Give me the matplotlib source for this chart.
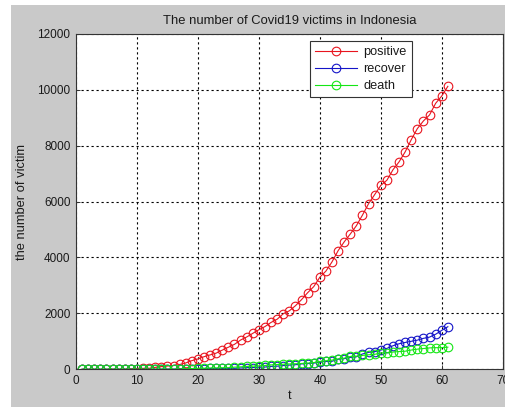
#!/usr/bin/env python3
"""Covid19 victims in Indonesia, MATLAB-style line plot."""

import matplotlib
matplotlib.use("Agg")
import matplotlib.pyplot as plt
from matplotlib.patches import Rectangle
import numpy as np

plt.rcParams['font.family'] = ['Liberation Sans', 'DejaVu Sans']

# day index (t = day of March 2020, continuing into April)
t = list(range(1, 62))

positive = [0, 2, 2, 2, 2, 4, 4, 6, 19, 27,
            34, 34, 69, 96, 117, 134, 172, 227, 309, 369,
            450, 514, 579, 686, 790, 893, 1046, 1155, 1285, 1414,
            1528, 1677, 1790, 1986, 2092, 2273, 2491, 2738, 2956, 3293,
            3512, 3842, 4241, 4557, 4839, 5136, 5516, 5923, 6248, 6575,
            6760, 7135, 7418, 7775, 8211, 8607, 8882, 9096, 9511, 9771,
            10118]

recover = [0, 0, 0, 0, 0, 0, 0, 0, 0, 0,
           0, 0, 3, 5, 8, 8, 9, 11, 15, 16,
           20, 29, 30, 30, 31, 35, 46, 59, 64, 75,
           81, 103, 112, 134, 150, 164, 192, 204, 222, 252,
           282, 286, 359, 380, 426, 446, 548, 607, 631, 686,
           747, 842, 913, 960, 1002, 1042, 1107, 1151, 1254, 1391,
           1522]

death = [0, 0, 0, 0, 0, 0, 0, 0, 0, 0,
         1, 1, 4, 5, 5, 5, 7, 19, 25, 32,
         38, 48, 49, 55, 58, 78, 87, 102, 114, 122,
         136, 157, 170, 181, 191, 198, 209, 221, 240, 280,
         306, 327, 373, 399, 459, 469, 496, 520, 535, 582,
         590, 616, 635, 647, 689, 720, 743, 765, 773, 773,
         792]

series_labels = ["positive", "recover", "death"]
series_colors = ["#e8141e", "#1414c8", "#14e614"]

x_ticks = [0, 10, 20, 30, 40, 50, 60, 70]
y_ticks = [0, 2000, 4000, 6000, 8000, 10000, 12000]

BG_GRAY = "#c9c9c9"
TEXT = "#1a1a1a"
FS_TICK = 8.5
FS = 9

W, H = 505, 407
fig = plt.figure(figsize=(W / 100, H / 100), dpi=100)
fig.patch.set_facecolor("white")
# gray MATLAB figure area (small white strip left and top)
fig.patches.append(Rectangle((11 / W, 0), 1, 1 - 5 / H, transform=fig.transFigure,
                             facecolor=BG_GRAY, edgecolor="none", zorder=-10))

left, right = 76 / W, 502.7 / W
bottom, top = 1 - 369.3 / H, 1 - 33.7 / H
ax = fig.add_axes([left, bottom, right - left, top - bottom])
ax.set_facecolor("white")

for vals, lab, col in zip([positive, recover, death], series_labels, series_colors):
    ax.plot(t, vals, '-o', color=col, lw=0.8, markersize=6.2,
            markerfacecolor='none', markeredgewidth=0.8, label=lab)

ax.set_xlim(0, 70)
ax.set_ylim(0, 12000)
ax.set_xticks(x_ticks)
ax.set_yticks(y_ticks)
ax.tick_params(direction='in', length=3, width=0.7, labelsize=FS_TICK,
               colors="#333333", labelcolor=TEXT, pad=4)
for sp in ax.spines.values():
    sp.set_color("#333333")
    sp.set_linewidth(0.8)

ax.grid(True, color="black", linestyle=(0, (2, 2.5)), linewidth=0.8)
ax.set_axisbelow(True)

ax.set_title("The number of Covid19 victims in Indonesia", fontsize=FS + 0.4,
             color=TEXT, pad=7)
ax.set_xlabel("t", fontsize=FS, color=TEXT)
ax.set_ylabel("the number of victim", fontsize=FS + 0.3, color=TEXT)
ax.xaxis.set_label_coords(0.5, -0.062)
ax.yaxis.set_label_coords(-0.113, 0.5)

leg = ax.legend(loc="upper right", bbox_to_anchor=((412 - 76) / 426.7, (369.3 - 41) / 335.6),
                fontsize=FS + 0.2, fancybox=False, framealpha=1, edgecolor="#333333",
                handlelength=3.3, labelspacing=0.4, borderaxespad=0,
                borderpad=0.4, handletextpad=0.5)
leg.get_frame().set_linewidth(0.8)
for txt in leg.get_texts():
    txt.set_color(TEXT)

fig.savefig("out.png", dpi=100, facecolor=fig.get_facecolor())
plt.close(fig)
